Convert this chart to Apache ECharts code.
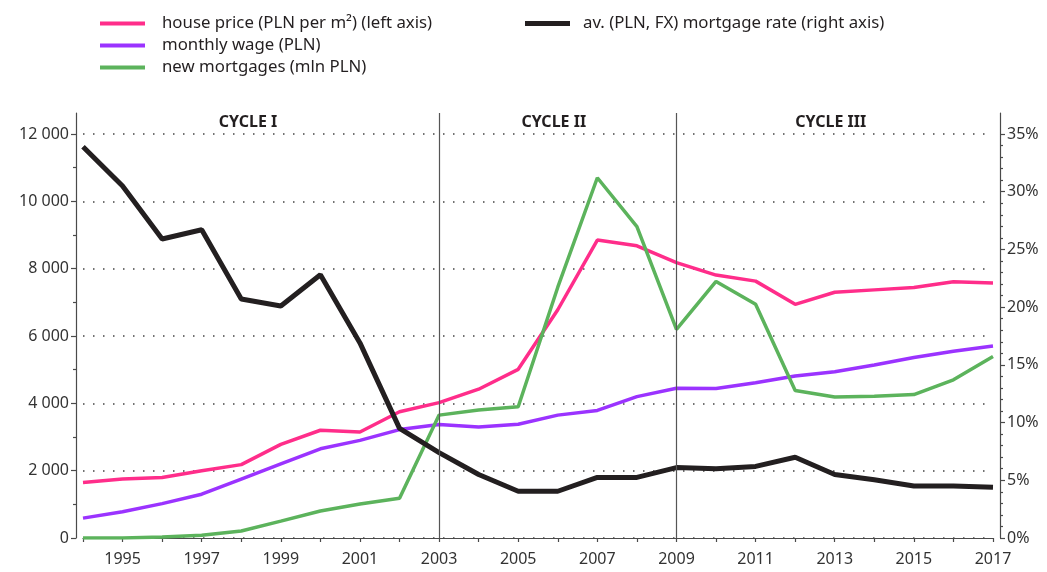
<!DOCTYPE html>
<html>
<head>
<meta charset="utf-8">
<script src="https://cdn.jsdelivr.net/npm/echarts@6/dist/echarts.min.js"></script>
<style>html,body{margin:0;padding:0;background:#fff}#c{width:1047px;height:572px}</style>
</head>
<body>
<div id="c"></div>
<script>
const years = ['1994','1995','1996','1997','1998','1999','2000','2001','2002','2003','2004','2005','2006','2007','2008','2009','2010','2011','2012','2013','2014','2015','2016','2017'];
const housePrice = [1650,1750,1800,2000,2180,2780,3200,3150,3750,4020,4420,5010,6780,8850,8680,8180,7810,7630,6940,7300,7370,7440,7610,7575];
const monthlyWage = [590,780,1020,1300,1750,2200,2650,2900,3220,3370,3300,3380,3650,3790,4200,4450,4440,4610,4810,4940,5140,5360,5550,5700];
const newMortgages = [0,0,30,80,210,500,800,1010,1180,3650,3800,3900,7450,10700,9250,6200,7620,6940,4380,4190,4210,4260,4700,5390];
const mortgageRate = [33.9,30.5,25.9,26.7,20.7,20.1,22.8,16.9,9.5,7.4,5.5,4.05,4.05,5.25,5.25,6.1,6.0,6.2,7.0,5.5,5.05,4.5,4.5,4.4];
const cycleNames = ['CYCLE I','CYCLE II','CYCLE III'];
const cycleBounds = [['1994','2003'],['2003','2009'],['2009','2017']];
const cycleDividers = ['2003','2009'];
const names = [
  'house price (PLN per m\u00B2) (left axis)',
  'monthly wage (PLN)',
  'new mortgages (mln PLN)',
  'av. (PLN, FX) mortgage rate (right axis)'
];
const colors = ['#ff2d8a','#9b33ff','#5cb35c','#231f20'];

const FONT = 'Noto Sans';
const txt = '#231f20';
const axisCol = '#4a4a4a';
const fmtThousands = v => String(v).replace(/\B(?=(\d{3})+(?!\d))/g, ' ');

const chart = echarts.init(document.getElementById('c'), null, {renderer: 'canvas'});
const G = {left: 83, right: 54, bottom: 34};

chart.setOption({
  animation: false,
  textStyle: {fontFamily: FONT, color: txt},
  grid: [
    Object.assign({top: 134}, G),
    Object.assign({top: 113}, G)
  ],
  legend: [
    {
      data: names.slice(0,3), orient: 'vertical', left: 95, top: 10,
      icon: 'rect', itemWidth: 45, itemHeight: 4, itemGap: 5,
      textStyle: {fontFamily: FONT, fontSize: 16.8, color: txt, padding: [0,0,0,12]},
      selectedMode: false
    },
    {
      data: [names[3]], orient: 'vertical', left: 520, top: 10,
      icon: 'rect', itemWidth: 45, itemHeight: 5,
      textStyle: {fontFamily: FONT, fontSize: 16.8, color: txt, padding: [0,0,0,8]},
      selectedMode: false
    }
  ],
  xAxis: [
    {
      gridIndex: 0, type: 'category', data: years, boundaryGap: false, offset: 6,
      axisLine: {show: true, lineStyle: {color: axisCol, width: 1.2}},
      axisTick: {show: true, interval: 0, length: 4, lineStyle: {color: axisCol, width: 1.2}},
      axisLabel: {interval: (i) => i % 2 === 1, fontSize: 16, color: '#333', margin: 7, fontFamily: FONT},
      splitLine: {show: false}
    },
    {
      gridIndex: 1, type: 'category', data: years, boundaryGap: false, show: false
    }
  ],
  yAxis: [
    {
      gridIndex: 0, type: 'value', position: 'left', min: 0, max: 12000, interval: 2000, offset: 7,
      axisLine: {show: false},
      axisTick: {show: true, length: 5, lineStyle: {color: axisCol, width: 1.2}},
      minorTick: {show: true, splitNumber: 2, length: 3, lineStyle: {color: axisCol, width: 1.2}},
      axisLabel: {formatter: fmtThousands, fontSize: 16, color: '#333', margin: 7, fontFamily: FONT},
      splitLine: {show: true, lineStyle: {color: '#444', width: 1.5, type: [1.5, 8.5]}}
    },
    {
      gridIndex: 0, type: 'value', position: 'right', min: 0, max: 35, interval: 5, offset: 7,
      axisLine: {show: false},
      axisTick: {show: true, length: 5, lineStyle: {color: axisCol, width: 1.2}},
      minorTick: {show: true, splitNumber: 5, length: 3, lineStyle: {color: axisCol, width: 1.2}},
      axisLabel: {formatter: '{value}%', fontSize: 16, color: '#333', margin: 7, fontFamily: FONT},
      splitLine: {show: false}
    },
    {
      gridIndex: 1, type: 'value', position: 'left', min: 0, max: 1, offset: 7,
      axisLine: {show: true, lineStyle: {color: axisCol, width: 1.2}},
      axisTick: {show: false}, axisLabel: {show: false}, splitLine: {show: false}
    },
    {
      gridIndex: 1, type: 'value', position: 'right', min: 0, max: 1, offset: 7,
      axisLine: {show: true, lineStyle: {color: axisCol, width: 1.2}},
      axisTick: {show: false}, axisLabel: {show: false}, splitLine: {show: false}
    }
  ],
  series: [
    {
      name: 'cycles', type: 'line', xAxisIndex: 1, yAxisIndex: 2, silent: true,
      data: years.map(() => null), symbol: 'none',
      markLine: {
        silent: true, symbol: ['none','none'], label: {show: false},
        lineStyle: {color: '#555', width: 1.2, type: 'solid'},
        data: cycleDividers.map(y => ({xAxis: y}))
      },
      markArea: {
        silent: true, itemStyle: {color: 'rgba(0,0,0,0)'},
        label: {show: true, position: 'insideTop', distance: 1, fontFamily: FONT, fontSize: 16, fontWeight: 'bold', color: txt},
        data: cycleBounds.map((b, i) => [
          {xAxis: b[0], name: cycleNames[i], label: i === 0 ? {offset: [-13, 0]} : {offset: [-4, 0]}},
          {xAxis: b[1]}
        ])
      }
    },
    {name: names[0], type: 'line', xAxisIndex: 0, yAxisIndex: 0, data: housePrice, symbol: 'none',
      color: colors[0], lineStyle: {width: 3.5, color: colors[0]}},
    {name: names[1], type: 'line', xAxisIndex: 0, yAxisIndex: 0, data: monthlyWage, symbol: 'none',
      color: colors[1], lineStyle: {width: 3.5, color: colors[1]}},
    {name: names[2], type: 'line', xAxisIndex: 0, yAxisIndex: 0, data: newMortgages, symbol: 'none',
      color: colors[2], lineStyle: {width: 3.5, color: colors[2]}},
    {name: names[3], type: 'line', xAxisIndex: 0, yAxisIndex: 1, data: mortgageRate, symbol: 'none',
      color: colors[3], lineStyle: {width: 5, color: colors[3]}}
  ]
});
</script>
</body>
</html>
